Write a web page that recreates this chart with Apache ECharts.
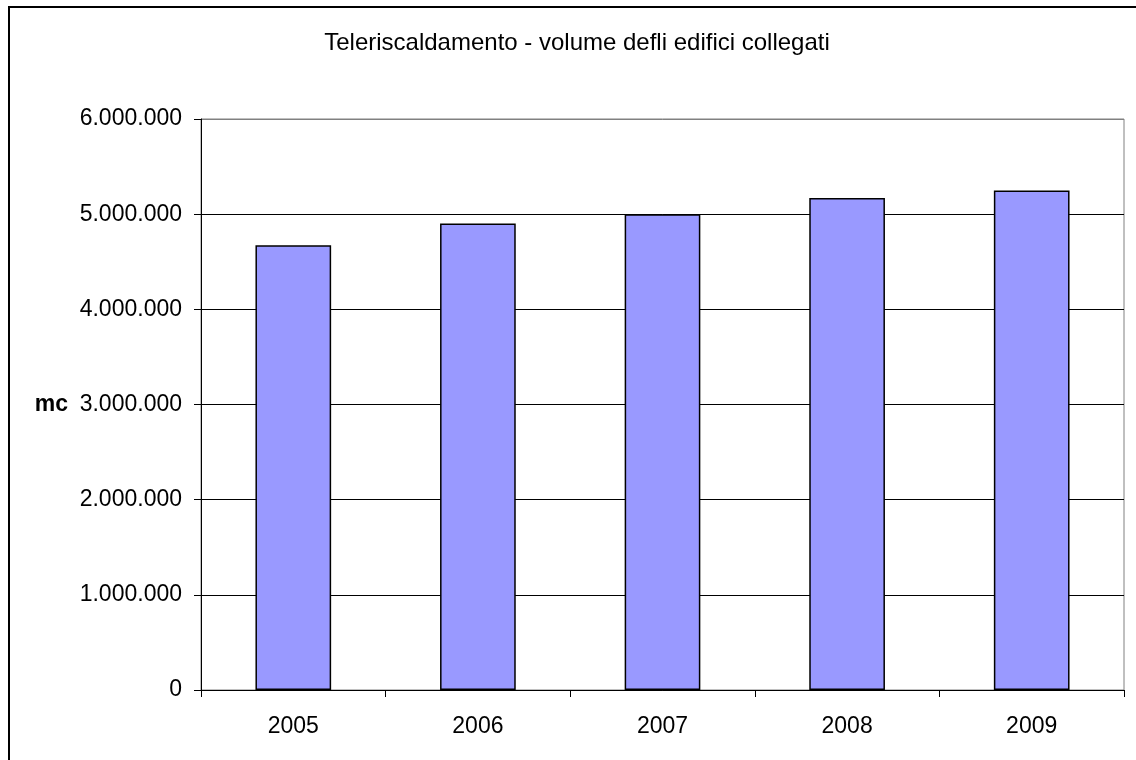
<!DOCTYPE html>
<html>
<head>
<meta charset="utf-8">
<script src="https://cdn.jsdelivr.net/npm/echarts@6/dist/echarts.min.js"></script>
<style>
html,body{margin:0;padding:0;background:#fff;}
#c{width:1136px;height:760px;}
</style>
</head>
<body>
<div id="c"></div>
<script>
var titleText = 'Teleriscaldamento - volume defli edifici collegati';
var categories = ['2005', '2006', '2007', '2008', '2009'];
var volumes = [4674000, 4902000, 5000000, 5171000, 5249000];
var yAxisName = 'mc';
var yMin = 0, yMax = 6000000, yStep = 1000000;

function fmt(v) {
  return String(Math.round(v)).replace(/\B(?=(\d{3})+(?!\d))/g, '.');
}

var chart = echarts.init(document.getElementById('c'), null, {renderer: 'canvas'});
var FONT = '"Liberation Sans", Arial, sans-serif';
chart.setOption({
  animation: false,
  backgroundColor: '#fff',
  title: {
    text: titleText,
    left: 572, top: 26,
    textAlign: 'center',
    textStyle: {fontFamily: FONT, fontSize: 24, fontWeight: 'normal', color: '#000'}
  },
  graphic: [{
    type: 'rect', silent: true,
    shape: {x: 9, y: 7, width: 1200, height: 800},
    style: {fill: 'none', stroke: '#000', lineWidth: 2}
  }],
  grid: {
    left: 201, right: 12, top: 119, bottom: 70,
    show: true, borderColor: '#808080', borderWidth: 1, containLabel: false
  },
  xAxis: {
    type: 'category',
    data: categories,
    axisLine: {lineStyle: {color: '#000', width: 1}},
    axisTick: {show: true, alignWithLabel: false, length: 7, inside: false, lineStyle: {color: '#000'}},
    axisLabel: {fontFamily: FONT, fontSize: 23, color: '#000', margin: 25},
    splitLine: {show: false}
  },
  yAxis: {
    type: 'value',
    min: yMin, max: yMax, interval: yStep,
    name: yAxisName,
    nameLocation: 'middle',
    nameRotate: 0,
    nameGap: 133,
    nameTextStyle: {fontFamily: FONT, fontSize: 23, fontWeight: 'bold', color: '#000', align: 'right'},
    axisLine: {show: true, lineStyle: {color: '#000', width: 1}},
    axisTick: {show: true, length: 7, lineStyle: {color: '#000'}},
    axisLabel: {fontFamily: FONT, fontSize: 23, color: '#000', margin: 19, formatter: fmt},
    splitLine: {show: true, lineStyle: {color: ['#000', '#000', '#000', '#000', '#000', '#000', '#808080'], width: 1}}
  },
  series: [{
    type: 'bar',
    data: volumes,
    barWidth: '41%',
    itemStyle: {color: '#9999FF', borderColor: '#000', borderWidth: 1.5}
  }]
});
</script>
</body>
</html>
